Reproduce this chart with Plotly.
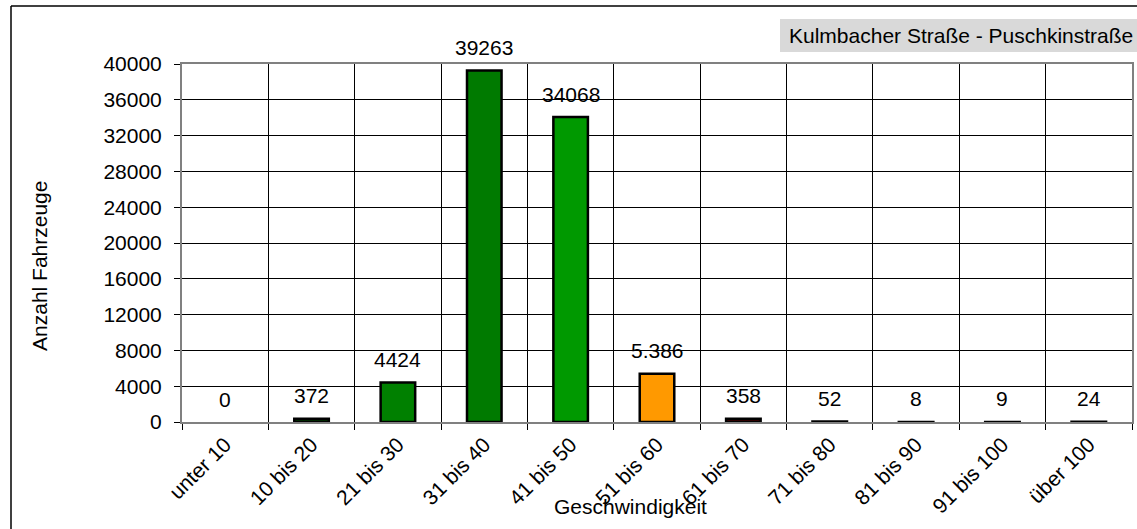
import plotly.graph_objects as go

categories = ["unter 10", "10 bis 20", "21 bis 30", "31 bis 40", "41 bis 50", "51 bis 60",
              "61 bis 70", "71 bis 80", "81 bis 90", "91 bis 100", "über 100"]
counts = [0, 372, 4424, 39263, 34068, 5386, 358, 52, 8, 9, 24]
count_labels = ["0", "372", "4424", "39263", "34068", "5.386", "358", "52", "8", "9", "24"]
bar_colors = ["#000000", "#003300", "#008000", "#007A00", "#009900", "#FF9900",
              "#400000", "#000000", "#000000", "#000000", "#000000"]
y_ticks = list(range(0, 40001, 4000))

FONT = "Arial, 'Liberation Sans', sans-serif"
FS = 21

line_widths = [0 if v == 0 else 2.5 for v in counts]

fig = go.Figure()
fig.add_trace(go.Bar(
    x=categories, y=counts, width=0.4,
    marker=dict(color=bar_colors, line=dict(color="#000000", width=line_widths)),
    hoverinfo="x+y",
))

for c, v, t in zip(categories, counts, count_labels):
    fig.add_annotation(x=c, y=v, text=t, showarrow=False, yanchor="middle", yshift=23,
                       font=dict(family=FONT, size=FS, color="#000000"))

# axis titles
fig.add_annotation(xref="paper", yref="paper", x=0.4716, y=-0.2374, text="Geschwindigkeit",
                   showarrow=False, xanchor="center", yanchor="middle",
                   font=dict(family=FONT, size=FS, color="#000000"))
fig.add_annotation(xref="paper", yref="paper", x=-0.1495, y=0.4358, text="Anzahl Fahrzeuge",
                   showarrow=False, textangle=-90, xanchor="center", yanchor="middle",
                   font=dict(family=FONT, size=FS, color="#000000"))

# title box
fig.add_shape(type="rect", xref="paper", yref="paper", x0=0.6295, x1=1.02, y0=1.0335, y1=1.1257,
              fillcolor="#D9D9D9", line=dict(width=0), layer="below")
fig.add_annotation(xref="paper", yref="paper", x=(787 - 182) / 950, y=(422 - 35.5) / 358,
                   text="Kulmbacher Straße - Puschkinstraße", showarrow=False,
                   xanchor="left", yanchor="middle",
                   font=dict(family=FONT, size=FS, color="#000000"))

# outer frame (left and top edges visible)
fx = (11 - 182) / 950
fy = (422 - 6) / 358
fig.add_shape(type="line", xref="paper", yref="paper", x0=fx, x1=fx, y0=fy, y1=-0.4,
              line=dict(color="#000000", width=1.5))
fig.add_shape(type="line", xref="paper", yref="paper", x0=fx, x1=1.1, y0=fy, y1=fy,
              line=dict(color="#000000", width=1.5))

fig.update_layout(
    width=1137, height=529,
    margin=dict(l=182, r=5, t=64, b=107, autoexpand=False),
    paper_bgcolor="#FFFFFF", plot_bgcolor="#FFFFFF",
    showlegend=False,
    font=dict(family=FONT, size=FS, color="#000000"),
    bargap=0.6,
)
fig.update_xaxes(
    type="category", tickson="boundaries", ticks="outside", ticklen=6, tickcolor="#000000",
    tickangle=-45, tickfont=dict(family=FONT, size=FS, color="#000000"),
    showgrid=True, gridcolor="#000000", gridwidth=1,
    showline=True, linecolor="#808080", linewidth=2, mirror=True, automargin=False,
)
fig.update_yaxes(
    range=[0, 40000], tickvals=y_ticks, ticktext=[str(v) for v in y_ticks],
    ticks="outside", ticklen=6, tickcolor="#000000",
    tickfont=dict(family=FONT, size=FS, color="#000000"),
    showgrid=True, gridcolor="#000000", gridwidth=1, zeroline=False,
    showline=True, linecolor="#808080", linewidth=2, mirror=True, automargin=False,
    ticklabelstandoff=8,
)

fig.write_html(
    "out.html",
    config={"displayModeBar": False},
    post_script="document.body.style.margin='0';document.body.style.overflow='hidden';",
)
